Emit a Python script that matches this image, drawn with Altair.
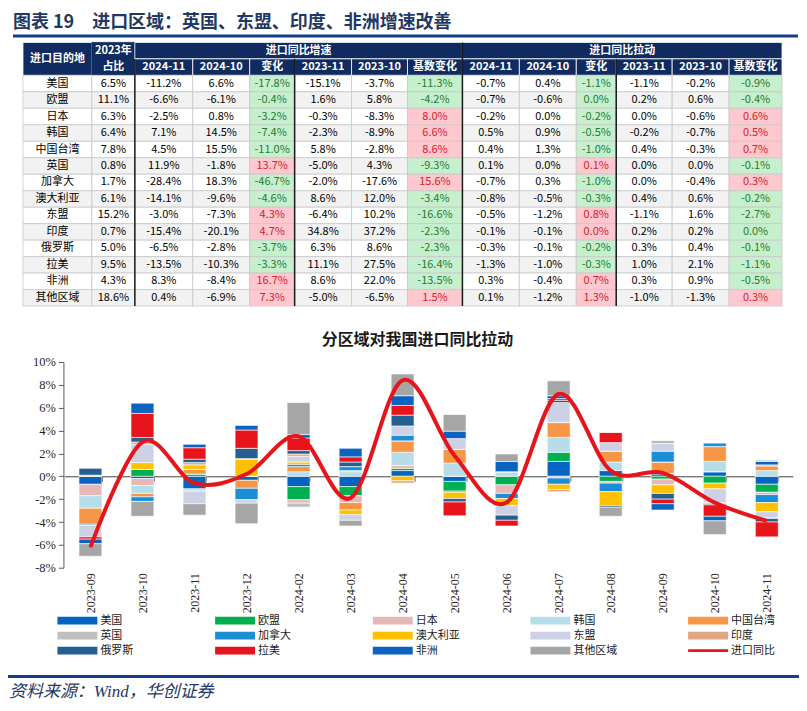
import altair as alt
import pandas as pd

# ---------------------------------------------------------------- data
regions = ["美国", "欧盟", "日本", "韩国", "中国台湾", "英国", "加拿大", "澳大利亚",
           "东盟", "印度", "俄罗斯", "拉美", "非洲", "其他区域"]

share_2023 = [6.5, 11.1, 6.3, 6.4, 7.8, 0.8, 1.7, 6.1, 15.2, 0.7, 5.0, 9.5, 4.3, 18.6]

growth_2024_11 = [-11.2, -6.6, -2.5, 7.1, 4.5, 11.9, -28.4, -14.1, -3.0, -15.4, -6.5, -13.5, 8.3, 0.4]
growth_2024_10 = [6.6, -6.1, 0.8, 14.5, 15.5, -1.8, 18.3, -9.6, -7.3, -20.1, -2.8, -10.3, -8.4, -6.9]
growth_chg = [-17.8, -0.4, -3.2, -7.4, -11.0, 13.7, -46.7, -4.6, 4.3, 4.7, -3.7, -3.3, 16.7, 7.3]
growth_2023_11 = [-15.1, 1.6, -0.3, -2.3, 5.8, -5.0, -2.0, 8.6, -6.4, 34.8, 6.3, 11.1, 8.6, -5.0]
growth_2023_10 = [-3.7, 5.8, -8.3, -8.9, -2.8, 4.3, -17.6, 12.0, 10.2, 37.2, 8.6, 27.5, 22.0, -6.5]
growth_base = [-11.3, -4.2, 8.0, 6.6, 8.6, -9.3, 15.6, -3.4, -16.6, -2.3, -2.3, -16.4, -13.5, 1.5]

pull_2024_11 = [-0.7, -0.7, -0.2, 0.5, 0.4, 0.1, -0.7, -0.8, -0.5, -0.1, -0.3, -1.3, 0.3, 0.1]
pull_2024_10 = [0.4, -0.6, 0.0, 0.9, 1.3, 0.0, 0.3, -0.5, -1.2, -0.1, -0.1, -1.0, -0.4, -1.2]
pull_chg = [-1.1, 0.0, -0.2, -0.5, -1.0, 0.1, -1.0, -0.3, 0.8, 0.0, -0.2, -0.3, 0.7, 1.3]
pull_2023_11 = [-1.1, 0.2, 0.0, -0.2, 0.4, 0.0, 0.0, 0.4, -1.1, 0.2, 0.3, 1.0, 0.3, -1.0]
pull_2023_10 = [-0.2, 0.6, -0.6, -0.7, -0.3, 0.0, -0.4, 0.6, 1.6, 0.2, 0.4, 2.1, 0.9, -1.3]
pull_base = [-0.9, -0.4, 0.6, 0.5, 0.7, -0.1, 0.3, -0.2, -2.7, 0.0, -0.1, -1.1, -0.5, 0.3]

# sign of change cells whose value rounds to 0.0% (from the cell colouring)
zero_sign = {("pull_chg", "欧盟"): -1, ("pull_chg", "印度"): 1, ("pull_base", "印度"): -1}

months = ["2023-09", "2023-10", "2023-11", "2023-12", "2024-02", "2024-03", "2024-04",
          "2024-05", "2024-06", "2024-07", "2024-08", "2024-09", "2024-10", "2024-11"]

c_us = [-0.7, -0.2, -1.1, -0.35, -0.9, -0.9, 0.5, -0.45, 0.0, 1.3, 0.5, 0.2, 0.4, -0.7]
c_eu = [0.0, 0.6, 0.2, 0.0, -1.15, -0.8, 0.2, -0.85, -0.75, 0.8, -0.45, -0.25, -0.6, -0.7]
c_jp = [-1.0, -0.6, 0.0, 0.0, -0.3, -0.6, 0.25, 0.0, -0.75, -0.15, -0.15, -0.5, 0.0, -0.2]
c_kr = [-1.1, -0.7, -0.2, 0.0, 0.4, 0.4, 1.15, 1.15, 0.4, 1.3, 0.75, 0.05, 0.9, 0.5]
c_tw = [-1.4, -0.3, 0.4, -0.7, 0.45, -0.65, 1.0, 1.2, 0.0, 1.3, 0.95, 1.0, 1.3, 0.4]
c_uk = [0.0, 0.0, 0.0, 0.0, -0.35, 0.1, 0.0, 0.0, 0.0, 0.0, 0.0, 0.0, 0.0, 0.1]
c_ca = [-0.1, -0.4, 0.0, -1.0, 0.2, 0.35, 0.5, -0.1, -0.45, -0.55, -0.75, 0.95, 0.3, -0.7]
c_au = [0.1, 0.6, 0.4, 1.5, 0.2, -0.4, -0.4, -0.55, -0.6, -0.45, -1.2, -0.75, -0.5, -0.8]
c_asean = [-1.0, 1.6, -1.1, -0.3, 0.5, -0.5, 0.8, 0.95, -0.85, 1.75, 0.75, 0.7, -1.2, -0.5]
c_in = [0.0, 0.2, 0.2, 0.05, 0.2, 0.0, -0.2, 0.0, 0.0, -0.2, 0.0, 0.0, -0.1, -0.1]
c_ru = [0.6, 0.4, 0.3, 0.9, 0.3, 0.4, 0.95, -0.3, -0.45, 0.2, -0.15, -0.5, -0.1, -0.3]
c_latam = [-0.2, 2.1, 1.0, 1.6, 1.1, 0.45, 0.85, -1.2, -0.5, 0.15, 0.9, -0.4, -1.0, -1.3]
c_africa = [-0.4, 0.9, 0.3, 0.4, 0.3, 0.75, 0.85, 0.65, 0.9, 0.25, 0.0, -0.55, -0.4, 0.3]
c_other = [-1.1, -1.3, -1.0, -1.8, 2.8, -0.5, 1.9, 1.45, 0.65, 1.3, -0.8, 0.2, -1.2, 0.1]

total_yoy = [-6.2, 3.0, -0.6, 0.2, 3.5, -1.9, 8.4, 1.8, -2.3, 7.2, 0.5, 0.3, -2.3, -3.9]

title_text = "图表 19\u3000进口区域：英国、东盟、印度、非洲增速改善"
chart_title = "分区域对我国进口同比拉动"
source_text = "资料来源：Wind，华创证券"
line_name = "进口同比"
col_headers = ["2024-11", "2024-10", "变化", "2023-11", "2023-10", "基数变化"]

# ---------------------------------------------------------------- styles
region_colors = ["#0563C1", "#00B050", "#E6B9B8", "#B7DEE8", "#F79646", "#BFBFBF",
                 "#1C8ED6", "#FFC000", "#CCD1E6", "#DEA887", "#245F92", "#E8141C",
                 "#0A63BF", "#A6A6A6"]
LINE_RED = "#E8141C"
NAVY = "#0F2B5F"
TITLE_BLUE = "#1F3864"
RULE_BLUE = "#123F86"
CJK = "Noto Sans CJK SC"
SERIF = "Liberation Serif"

W, H = 792, 695

# ---------------------------------------------------------------- table
col_units = [69, 43, 58, 57, 45, 57, 56, 55, 57, 57, 40, 56, 57, 53]
bounds = [0]
for w in col_units:
    bounds.append(bounds[-1] + w)

cells = []


def add(c0, c1, r0, r1, text, fill, stroke, tcolor, head):
    cells.append(dict(x0=bounds[c0], x1=bounds[c1], y0=r0, y1=r1,
                      xm=(bounds[c0] + bounds[c1]) / 2, ym=(r0 + r1) / 2,
                      text=text, fill=fill, stroke=stroke, tcolor=tcolor, head=head))


add(0, 1, 0, 2, "进口目的地", NAVY, "#FFFFFF", "#FFFFFF", True)
add(1, 2, 0, 1, "2023年", NAVY, NAVY, "#FFFFFF", True)
add(1, 2, 1, 2, "占比", NAVY, NAVY, "#FFFFFF", True)
add(2, 8, 0, 1, "进口同比增速", NAVY, "#FFFFFF", "#FFFFFF", True)
add(8, 14, 0, 1, "进口同比拉动", NAVY, "#FFFFFF", "#FFFFFF", True)
for i, s in enumerate(col_headers * 2):
    add(2 + i, 3 + i, 1, 2, s, NAVY, "#FFFFFF", "#FFFFFF", True)

value_cols = [share_2023, growth_2024_11, growth_2024_10, growth_chg, growth_2023_11,
              growth_2023_10, growth_base, pull_2024_11, pull_2024_10, pull_chg,
              pull_2023_11, pull_2023_10, pull_base]
colored = {3: "growth_chg", 6: "growth_base", 9: "pull_chg", 12: "pull_base"}

for r, reg in enumerate(regions):
    base = "#FFFFFF" if r % 2 == 0 else "#F2F2F2"
    add(0, 1, 2 + r, 3 + r, reg, base, "#C8C8C8", "#000000", False)
    for k, vals in enumerate(value_cols):
        v = vals[r]
        fill, tc = base, "#000000"
        if k in colored:
            s = (v > 0) - (v < 0)
            if s == 0:
                s = zero_sign.get((colored[k], reg), -1)
            if s > 0:
                fill, tc = "#FFC7CE", "#D2222D"
            else:
                fill, tc = "#C6EFCE", "#1E7B34"
        add(k + 1, k + 2, 2 + r, 3 + r, f"{v:.1f}%", fill, "#C8C8C8", tc, False)

cells_df = pd.DataFrame(cells)
dividers_df = pd.DataFrame(dict(x=[bounds[2], bounds[5], bounds[8], bounds[11]],
                                y0=[1, 1, 0, 1], y1=[16, 16, 16, 16]))

tx = alt.Scale(domain=[0, bounds[-1]], range=[15, 775], nice=False, zero=False)
ty = alt.Scale(domain=[0, 16], range=[34, 298], nice=False, zero=False)

table_rect = alt.Chart(cells_df).mark_rect(strokeWidth=0.8).encode(
    x=alt.X("x0:Q", scale=tx, axis=None), x2="x1:Q",
    y=alt.Y("y0:Q", scale=ty, axis=None), y2="y1:Q",
    fill=alt.Fill("fill:N", scale=None), stroke=alt.Stroke("stroke:N", scale=None))

table_head = alt.Chart(cells_df).transform_filter("datum.head").mark_text(
    font=CJK, fontSize=11, fontWeight="bold", baseline="middle", align="center").encode(
    x=alt.X("xm:Q", scale=tx, axis=None), y=alt.Y("ym:Q", scale=ty, axis=None),
    text="text:N", color=alt.Color("tcolor:N", scale=None))

table_body = alt.Chart(cells_df).transform_filter("!datum.head").mark_text(
    font=CJK, fontSize=11, baseline="middle", align="center").encode(
    x=alt.X("xm:Q", scale=tx, axis=None), y=alt.Y("ym:Q", scale=ty, axis=None),
    text="text:N", color=alt.Color("tcolor:N", scale=None))

table_div = alt.Chart(dividers_df).mark_rule(color="#1A1A1A", strokeWidth=1.5).encode(
    x=alt.X("x:Q", scale=tx, axis=None),
    y=alt.Y("y0:Q", scale=ty, axis=None), y2="y1:Q")

# ---------------------------------------------------------------- bar chart
series = [c_us, c_eu, c_jp, c_kr, c_tw, c_uk, c_ca, c_au, c_asean, c_in, c_ru,
          c_latam, c_africa, c_other]
rows = []
for idx, (reg, vals) in enumerate(zip(regions, series)):
    for m, v in zip(months, vals):
        rows.append(dict(month=m, region=reg, idx=idx, value=v))
bars_df = pd.DataFrame(rows)
line_df = pd.DataFrame(dict(month=months, total=total_yoy, i=list(range(len(months)))))

X0, X1 = 56.5, 785.8
Y_BOTTOM, Y_TOP = 560, 354
y_zero = Y_BOTTOM - 8 * (Y_BOTTOM - Y_TOP) / 18

by = alt.Scale(domain=[-8, 10], range=[Y_BOTTOM, Y_TOP], nice=False, zero=False)
bx = alt.Scale(type="band", domain=months, range=[X0, X1], paddingInner=0.56, paddingOuter=0.28)
px = alt.Scale(type="point", domain=months, range=[X0, X1], padding=0.5)

bars = alt.Chart(bars_df).mark_bar(stroke="#FFFFFF", strokeWidth=0.6).encode(
    x=alt.X("month:N", scale=bx, sort=months,
            axis=alt.Axis(orient="bottom", offset=y_zero - H, labels=False, title=None,
                          domain=True, domainColor="#404040", domainWidth=1,
                          ticks=True, tickBand="extent", tickSize=5, tickColor="#404040",
                          grid=False)),
    y=alt.Y("value:Q", stack="zero", scale=by,
            axis=alt.Axis(orient="left", offset=-X0 + 1, values=list(range(-8, 11, 2)),
                          labelExpr="datum.value + '%'", labelFont=SERIF, labelFontSize=12.5,
                          labelColor="#262626", tickSize=5, tickColor="#595959",
                          domainColor="#595959", grid=False, title=None, labelPadding=3)),
    color=alt.Color("region:N", scale=alt.Scale(domain=regions, range=region_colors), legend=None),
    order=alt.Order("idx:Q", sort="ascending"))

line = alt.Chart(line_df).mark_line(color=LINE_RED, strokeWidth=4, interpolate="cardinal").encode(
    x=alt.X("month:N", scale=px, sort=months,
            axis=alt.Axis(orient="bottom", offset=Y_BOTTOM - H, domain=False, ticks=False,
                          labelAngle=270, labelFont=SERIF, labelFontSize=12,
                          labelColor="#262626", labelPadding=5, title=None, grid=False)),
    y=alt.Y("total:Q", scale=by, axis=None),
    order=alt.Order("i:Q"))

# ---------------------------------------------------------------- legend
leg_names = regions + [line_name]
leg_colors = region_colors + [LINE_RED]
BAR_SHAPE = "M-1,-0.19H1V0.19H-1Z"
LINE_SHAPE = "M-1,-0.07H1V0.07H-1Z"
leg_df = pd.DataFrame(dict(
    name=leg_names, color=leg_colors,
    col=[i % 5 for i in range(15)], row=[i // 5 for i in range(15)],
    shape=[BAR_SHAPE] * 14 + [LINE_SHAPE]))
lx = alt.Scale(domain=[0, 4], range=[69.5, 701], nice=False, zero=False)
ly = alt.Scale(domain=[0, 2], range=[613, 643], nice=False, zero=False)

leg_sym = alt.Chart(leg_df).mark_point(filled=True, size=1600, opacity=1, strokeWidth=0).encode(
    x=alt.X("col:Q", scale=lx, axis=None), y=alt.Y("row:Q", scale=ly, axis=None),
    color=alt.Color("color:N", scale=None), shape=alt.Shape("shape:N", scale=None))
leg_txt = alt.Chart(leg_df).mark_text(align="left", baseline="middle", dx=23, font=CJK,
                                      fontSize=11, color="#1A1A1A").encode(
    x=alt.X("col:Q", scale=lx, axis=None), y=alt.Y("row:Q", scale=ly, axis=None),
    text="name:N")

# ---------------------------------------------------------------- decorations
one = alt.Data(values=[{}])
title_mark = alt.Chart(one).mark_text(text=title_text, font=CJK, fontSize=18, fontWeight="bold",
                                      color=TITLE_BLUE, align="left", baseline="middle").encode(
    x=alt.value(5), y=alt.value(14.5))
top_rule = alt.Chart(one).mark_rule(color=RULE_BLUE, strokeWidth=3).encode(
    x=alt.value(5), x2=alt.value(791), y=alt.value(27.5))
chart_title_mark = alt.Chart(one).mark_text(text=chart_title, font=CJK, fontSize=16,
                                            fontWeight="bold", color="#1A1A1A",
                                            align="center", baseline="middle").encode(
    x=alt.value(410), y=alt.value(332))
bottom_rule = alt.Chart(one).mark_rule(color=RULE_BLUE, strokeWidth=3).encode(
    x=alt.value(0), x2=alt.value(792), y=alt.value(669))
source_mark = alt.Chart(one).mark_text(text=source_text, font=f"{SERIF}, {CJK}", fontSize=17,
                                       fontStyle="italic", color=TITLE_BLUE,
                                       align="left", baseline="middle").encode(
    x=alt.value(1), y=alt.value(684))

chart = alt.layer(
    table_rect, table_div, table_head, table_body,
    bars, line,
    leg_sym, leg_txt,
    title_mark, top_rule, chart_title_mark, bottom_rule, source_mark,
).resolve_scale(
    x="independent", y="independent", color="independent", fill="independent",
    stroke="independent", shape="independent"
).properties(
    width=W, height=H, autosize=alt.AutoSizeParams(type="none"), padding=0
).configure_view(stroke=None)

chart.save("out.html", embed_options={"renderer": "svg", "actions": False})
